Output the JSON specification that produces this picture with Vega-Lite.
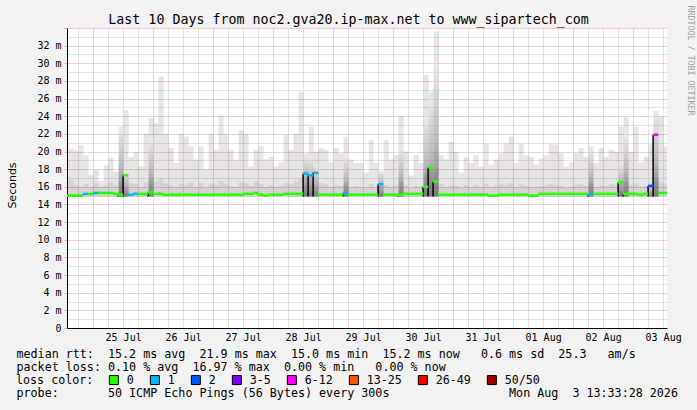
{
  "$schema": "https://vega.github.io/schema/vega-lite/v6.json",
  "width": 600,
  "height": 300,
  "autosize": {"type": "none"},
  "padding": {"left": 67, "top": 28, "right": 30, "bottom": 82},
  "background": "#f2f2f2",
  "config": {"view": {"fill": "#ffffff", "stroke": null}, "font": "DejaVu Sans Mono"},
  "title": {"text": "Last 10 Days from noc2.gva20.ip-max.net to www_sipartech_com", "font": "DejaVu Sans Mono", "fontSize": 13.3, "fontWeight": "normal", "color": "#000000", "anchor": "middle", "frame": "group", "dx": -18.5, "offset": -32, "baseline": "alphabetic"},
  "datasets": {
    "smoke": [
      {"t":"2026-07-24T12:00Z","lo":14.9,"hi":26.0,"md":16.5,"med":15.0,"loss":"0"},
      {"t":"2026-07-24T14:00Z","lo":14.9,"hi":20.3,"md":16.8,"med":15.0,"loss":"0"},
      {"t":"2026-07-24T16:00Z","lo":14.9,"hi":20.1,"md":16.2,"med":15.0,"loss":"0"},
      {"t":"2026-07-24T18:00Z","lo":14.9,"hi":20.7,"md":16.0,"med":15.0,"loss":"0"},
      {"t":"2026-07-24T20:00Z","lo":14.9,"hi":19.6,"md":16.3,"med":15.2,"loss":"1"},
      {"t":"2026-07-24T22:00Z","lo":14.9,"hi":17.3,"md":16.0,"med":15.2,"loss":"0"},
      {"t":"2026-07-25T00:00Z","lo":14.9,"hi":17.9,"md":16.4,"med":15.3,"loss":"1"},
      {"t":"2026-07-25T02:00Z","lo":14.9,"hi":16.7,"md":16.0,"med":15.3,"loss":"0"},
      {"t":"2026-07-25T04:00Z","lo":14.9,"hi":18.5,"md":16.2,"med":15.3,"loss":"0"},
      {"t":"2026-07-25T06:00Z","lo":14.9,"hi":19.3,"md":16.5,"med":15.3,"loss":"0"},
      {"t":"2026-07-25T08:00Z","lo":14.9,"hi":17.7,"md":16.2,"med":15.2,"loss":"0"},
      {"t":"2026-07-25T10:00Z","lo":14.9,"hi":22.8,"md":16.6,"med":15.1,"loss":"0"},
      {"t":"2026-07-25T12:00Z","lo":14.9,"hi":24.7,"md":17.5,"med":17.3,"loss":"0"},
      {"t":"2026-07-25T14:00Z","lo":14.9,"hi":19.4,"md":16.4,"med":15.1,"loss":"1"},
      {"t":"2026-07-25T16:00Z","lo":14.9,"hi":20.0,"md":16.3,"med":15.2,"loss":"1"},
      {"t":"2026-07-25T18:00Z","lo":14.9,"hi":18.3,"md":16.0,"med":15.2,"loss":"0"},
      {"t":"2026-07-25T20:00Z","lo":14.9,"hi":22.0,"md":16.5,"med":15.2,"loss":"0"},
      {"t":"2026-07-25T22:00Z","lo":14.9,"hi":23.8,"md":16.8,"med":15.4,"loss":"0"},
      {"t":"2026-07-26T00:00Z","lo":14.9,"hi":23.2,"md":16.6,"med":15.2,"loss":"0"},
      {"t":"2026-07-26T02:00Z","lo":14.9,"hi":28.5,"md":16.9,"med":15.2,"loss":"0"},
      {"t":"2026-07-26T04:00Z","lo":14.9,"hi":22.0,"md":16.4,"med":15.1,"loss":"0"},
      {"t":"2026-07-26T06:00Z","lo":14.9,"hi":20.4,"md":16.2,"med":15.1,"loss":"0"},
      {"t":"2026-07-26T08:00Z","lo":14.9,"hi":18.7,"md":16.0,"med":15.1,"loss":"0"},
      {"t":"2026-07-26T10:00Z","lo":14.9,"hi":22.0,"md":16.3,"med":15.1,"loss":"0"},
      {"t":"2026-07-26T12:00Z","lo":14.9,"hi":21.7,"md":16.2,"med":15.1,"loss":"0"},
      {"t":"2026-07-26T14:00Z","lo":14.9,"hi":20.6,"md":16.5,"med":15.1,"loss":"0"},
      {"t":"2026-07-26T16:00Z","lo":14.9,"hi":19.1,"md":16.0,"med":15.1,"loss":"0"},
      {"t":"2026-07-26T18:00Z","lo":14.9,"hi":20.6,"md":16.4,"med":15.1,"loss":"0"},
      {"t":"2026-07-26T20:00Z","lo":14.9,"hi":18.0,"md":15.9,"med":15.1,"loss":"0"},
      {"t":"2026-07-26T22:00Z","lo":14.9,"hi":22.0,"md":16.4,"med":15.1,"loss":"0"},
      {"t":"2026-07-27T00:00Z","lo":14.9,"hi":20.2,"md":16.2,"med":15.1,"loss":"0"},
      {"t":"2026-07-27T02:00Z","lo":14.9,"hi":24.1,"md":16.6,"med":15.1,"loss":"0"},
      {"t":"2026-07-27T04:00Z","lo":14.9,"hi":22.0,"md":16.3,"med":15.1,"loss":"0"},
      {"t":"2026-07-27T06:00Z","lo":14.9,"hi":20.2,"md":16.1,"med":15.1,"loss":"0"},
      {"t":"2026-07-27T08:00Z","lo":14.9,"hi":19.1,"md":16.0,"med":15.1,"loss":"0"},
      {"t":"2026-07-27T10:00Z","lo":14.9,"hi":22.4,"md":16.5,"med":15.1,"loss":"0"},
      {"t":"2026-07-27T12:00Z","lo":14.9,"hi":22.0,"md":16.4,"med":15.2,"loss":"0"},
      {"t":"2026-07-27T14:00Z","lo":14.9,"hi":18.3,"md":16.1,"med":15.2,"loss":"0"},
      {"t":"2026-07-27T16:00Z","lo":14.9,"hi":20.2,"md":16.6,"med":15.3,"loss":"0"},
      {"t":"2026-07-27T18:00Z","lo":14.9,"hi":20.6,"md":16.3,"med":15.1,"loss":"0"},
      {"t":"2026-07-27T20:00Z","lo":14.9,"hi":19.1,"md":16.0,"med":15.0,"loss":"0"},
      {"t":"2026-07-27T22:00Z","lo":14.9,"hi":19.4,"md":16.2,"med":15.1,"loss":"0"},
      {"t":"2026-07-28T00:00Z","lo":14.9,"hi":18.3,"md":16.0,"med":15.1,"loss":"0"},
      {"t":"2026-07-28T02:00Z","lo":14.9,"hi":18.8,"md":16.1,"med":15.1,"loss":"0"},
      {"t":"2026-07-28T04:00Z","lo":14.9,"hi":21.9,"md":16.4,"med":15.2,"loss":"0"},
      {"t":"2026-07-28T06:00Z","lo":14.9,"hi":20.2,"md":16.3,"med":15.2,"loss":"0"},
      {"t":"2026-07-28T08:00Z","lo":14.9,"hi":22.0,"md":16.6,"med":15.2,"loss":"0"},
      {"t":"2026-07-28T10:00Z","lo":14.9,"hi":26.8,"md":16.9,"med":15.2,"loss":"0"},
      {"t":"2026-07-28T12:00Z","lo":14.9,"hi":19.8,"md":17.8,"med":17.5,"loss":"1"},
      {"t":"2026-07-28T14:00Z","lo":14.9,"hi":22.8,"md":17.5,"med":17.3,"loss":"1"},
      {"t":"2026-07-28T16:00Z","lo":14.9,"hi":20.0,"md":17.6,"med":17.6,"loss":"1"},
      {"t":"2026-07-28T18:00Z","lo":14.9,"hi":20.4,"md":16.4,"med":15.1,"loss":"0"},
      {"t":"2026-07-28T20:00Z","lo":14.9,"hi":20.2,"md":16.3,"med":15.1,"loss":"0"},
      {"t":"2026-07-28T22:00Z","lo":14.9,"hi":18.8,"md":16.0,"med":15.1,"loss":"0"},
      {"t":"2026-07-29T00:00Z","lo":14.9,"hi":20.4,"md":16.2,"med":15.1,"loss":"0"},
      {"t":"2026-07-29T02:00Z","lo":14.9,"hi":19.8,"md":16.1,"med":15.1,"loss":"0"},
      {"t":"2026-07-29T04:00Z","lo":14.9,"hi":21.7,"md":16.5,"med":15.3,"loss":"1"},
      {"t":"2026-07-29T06:00Z","lo":14.9,"hi":19.1,"md":16.0,"med":15.1,"loss":"0"},
      {"t":"2026-07-29T08:00Z","lo":14.9,"hi":18.7,"md":16.1,"med":15.1,"loss":"0"},
      {"t":"2026-07-29T10:00Z","lo":14.9,"hi":18.7,"md":16.0,"med":15.1,"loss":"0"},
      {"t":"2026-07-29T12:00Z","lo":14.9,"hi":17.6,"md":15.9,"med":15.1,"loss":"0"},
      {"t":"2026-07-29T14:00Z","lo":14.9,"hi":21.3,"md":16.3,"med":15.1,"loss":"0"},
      {"t":"2026-07-29T16:00Z","lo":14.9,"hi":18.7,"md":16.0,"med":15.1,"loss":"0"},
      {"t":"2026-07-29T18:00Z","lo":14.9,"hi":17.5,"md":16.5,"med":16.3,"loss":"1"},
      {"t":"2026-07-29T20:00Z","lo":14.9,"hi":21.3,"md":16.2,"med":15.1,"loss":"0"},
      {"t":"2026-07-29T22:00Z","lo":14.9,"hi":19.1,"md":16.0,"med":15.1,"loss":"0"},
      {"t":"2026-07-30T00:00Z","lo":14.9,"hi":19.6,"md":16.2,"med":15.1,"loss":"0"},
      {"t":"2026-07-30T02:00Z","lo":14.9,"hi":24.0,"md":16.6,"med":15.1,"loss":"0"},
      {"t":"2026-07-30T04:00Z","lo":14.9,"hi":20.0,"md":16.2,"med":15.2,"loss":"0"},
      {"t":"2026-07-30T06:00Z","lo":14.9,"hi":17.3,"md":15.9,"med":15.2,"loss":"0"},
      {"t":"2026-07-30T08:00Z","lo":14.9,"hi":19.6,"md":16.1,"med":15.2,"loss":"0"},
      {"t":"2026-07-30T10:00Z","lo":14.9,"hi":18.7,"md":16.0,"med":15.2,"loss":"0"},
      {"t":"2026-07-30T12:00Z","lo":14.9,"hi":28.7,"md":17.5,"med":16.0,"loss":"0"},
      {"t":"2026-07-30T14:00Z","lo":14.9,"hi":26.8,"md":18.0,"med":18.2,"loss":"0"},
      {"t":"2026-07-30T16:00Z","lo":14.9,"hi":33.6,"md":17.8,"med":16.6,"loss":"0"},
      {"t":"2026-07-30T18:00Z","lo":14.9,"hi":19.6,"md":16.3,"med":15.1,"loss":"0"},
      {"t":"2026-07-30T20:00Z","lo":14.9,"hi":19.1,"md":16.0,"med":15.1,"loss":"0"},
      {"t":"2026-07-30T22:00Z","lo":14.9,"hi":21.1,"md":16.2,"med":15.1,"loss":"0"},
      {"t":"2026-07-31T00:00Z","lo":14.9,"hi":20.0,"md":16.1,"med":15.1,"loss":"0"},
      {"t":"2026-07-31T02:00Z","lo":14.9,"hi":17.6,"md":15.9,"med":15.1,"loss":"0"},
      {"t":"2026-07-31T04:00Z","lo":14.9,"hi":19.4,"md":16.2,"med":15.1,"loss":"0"},
      {"t":"2026-07-31T06:00Z","lo":14.9,"hi":18.7,"md":16.0,"med":15.1,"loss":"0"},
      {"t":"2026-07-31T08:00Z","lo":14.9,"hi":19.6,"md":16.2,"med":15.1,"loss":"0"},
      {"t":"2026-07-31T10:00Z","lo":14.9,"hi":18.3,"md":16.0,"med":15.1,"loss":"0"},
      {"t":"2026-07-31T12:00Z","lo":14.9,"hi":20.9,"md":16.3,"med":15.1,"loss":"0"},
      {"t":"2026-07-31T14:00Z","lo":14.9,"hi":18.5,"md":16.0,"med":15.0,"loss":"0"},
      {"t":"2026-07-31T16:00Z","lo":14.9,"hi":19.1,"md":16.2,"med":15.0,"loss":"0"},
      {"t":"2026-07-31T18:00Z","lo":14.9,"hi":19.8,"md":16.3,"med":15.1,"loss":"0"},
      {"t":"2026-07-31T20:00Z","lo":14.9,"hi":20.9,"md":16.2,"med":15.1,"loss":"0"},
      {"t":"2026-07-31T22:00Z","lo":14.9,"hi":21.7,"md":16.4,"med":15.1,"loss":"0"},
      {"t":"2026-08-01T00:00Z","lo":14.9,"hi":18.7,"md":16.0,"med":15.1,"loss":"0"},
      {"t":"2026-08-01T02:00Z","lo":14.9,"hi":20.9,"md":16.3,"med":15.1,"loss":"0"},
      {"t":"2026-08-01T04:00Z","lo":14.9,"hi":19.6,"md":16.1,"med":15.1,"loss":"0"},
      {"t":"2026-08-01T06:00Z","lo":14.9,"hi":19.4,"md":16.0,"med":15.0,"loss":"0"},
      {"t":"2026-08-01T08:00Z","lo":14.9,"hi":18.5,"md":16.0,"med":15.0,"loss":"0"},
      {"t":"2026-08-01T10:00Z","lo":14.9,"hi":19.2,"md":16.1,"med":15.2,"loss":"0"},
      {"t":"2026-08-01T12:00Z","lo":14.9,"hi":19.6,"md":16.2,"med":15.2,"loss":"0"},
      {"t":"2026-08-01T14:00Z","lo":14.9,"hi":20.9,"md":16.3,"med":15.2,"loss":"0"},
      {"t":"2026-08-01T16:00Z","lo":14.9,"hi":20.8,"md":16.2,"med":15.2,"loss":"0"},
      {"t":"2026-08-01T18:00Z","lo":14.9,"hi":19.8,"md":16.1,"med":15.2,"loss":"0"},
      {"t":"2026-08-01T20:00Z","lo":14.9,"hi":18.3,"md":15.9,"med":15.2,"loss":"0"},
      {"t":"2026-08-01T22:00Z","lo":14.9,"hi":18.8,"md":16.0,"med":15.2,"loss":"0"},
      {"t":"2026-08-02T00:00Z","lo":14.9,"hi":19.8,"md":16.2,"med":15.2,"loss":"0"},
      {"t":"2026-08-02T02:00Z","lo":14.9,"hi":20.4,"md":16.3,"med":15.2,"loss":"0"},
      {"t":"2026-08-02T04:00Z","lo":14.9,"hi":19.4,"md":16.1,"med":15.2,"loss":"0"},
      {"t":"2026-08-02T06:00Z","lo":14.9,"hi":20.6,"md":16.4,"med":15.1,"loss":"1"},
      {"t":"2026-08-02T08:00Z","lo":14.9,"hi":18.7,"md":16.0,"med":15.2,"loss":"0"},
      {"t":"2026-08-02T10:00Z","lo":14.9,"hi":20.4,"md":16.2,"med":15.2,"loss":"0"},
      {"t":"2026-08-02T12:00Z","lo":14.9,"hi":19.4,"md":16.1,"med":15.2,"loss":"0"},
      {"t":"2026-08-02T14:00Z","lo":14.9,"hi":20.2,"md":16.3,"med":15.2,"loss":"0"},
      {"t":"2026-08-02T16:00Z","lo":14.9,"hi":20.0,"md":16.2,"med":15.2,"loss":"0"},
      {"t":"2026-08-02T18:00Z","lo":14.9,"hi":22.8,"md":16.8,"med":16.5,"loss":"0"},
      {"t":"2026-08-02T20:00Z","lo":14.9,"hi":23.9,"md":16.6,"med":15.2,"loss":"0"},
      {"t":"2026-08-02T22:00Z","lo":14.9,"hi":20.0,"md":16.2,"med":15.2,"loss":"0"},
      {"t":"2026-08-03T00:00Z","lo":14.9,"hi":22.8,"md":16.4,"med":15.2,"loss":"0"},
      {"t":"2026-08-03T02:00Z","lo":14.9,"hi":18.8,"md":16.0,"med":15.1,"loss":"0"},
      {"t":"2026-08-03T04:00Z","lo":14.9,"hi":19.4,"md":16.1,"med":15.2,"loss":"0"},
      {"t":"2026-08-03T06:00Z","lo":14.9,"hi":20.8,"md":16.5,"med":16.1,"loss":"2"},
      {"t":"2026-08-03T08:00Z","lo":14.9,"hi":24.6,"md":17.0,"med":21.9,"loss":"6-12"},
      {"t":"2026-08-03T10:00Z","lo":14.9,"hi":24.0,"md":16.5,"med":15.3,"loss":"0"},
      {"t":"2026-08-03T12:00Z","lo":14.9,"hi":20.6,"md":16.3,"med":15.3,"loss":"0"}
    ],
    "spikes": [
      {"t":"2026-07-25T10:00Z","lo":14.9,"top":22.7,"med":15.1},
      {"t":"2026-07-25T12:00Z","lo":14.9,"top":17.8,"med":17.3},
      {"t":"2026-07-25T22:00Z","lo":14.9,"top":21.5,"med":15.4},
      {"t":"2026-07-28T12:00Z","lo":14.9,"top":19.8,"med":17.5},
      {"t":"2026-07-28T14:00Z","lo":14.9,"top":19.5,"med":17.3},
      {"t":"2026-07-28T16:00Z","lo":14.9,"top":18.5,"med":17.6},
      {"t":"2026-07-29T04:00Z","lo":14.9,"top":19.6,"med":15.3},
      {"t":"2026-07-29T18:00Z","lo":14.9,"top":18.0,"med":16.3},
      {"t":"2026-07-30T02:00Z","lo":14.9,"top":20.5,"med":15.1},
      {"t":"2026-07-30T12:00Z","lo":14.9,"top":24.0,"med":16.0},
      {"t":"2026-07-30T14:00Z","lo":14.9,"top":26.0,"med":18.2},
      {"t":"2026-07-30T16:00Z","lo":14.9,"top":30.0,"med":16.6},
      {"t":"2026-08-02T06:00Z","lo":14.9,"top":20.5,"med":15.1},
      {"t":"2026-08-02T18:00Z","lo":14.9,"top":18.7,"med":16.5},
      {"t":"2026-08-02T20:00Z","lo":14.9,"top":22.0,"med":15.2},
      {"t":"2026-08-03T06:00Z","lo":14.9,"top":16.5,"med":16.1},
      {"t":"2026-08-03T08:00Z","lo":14.9,"top":24.6,"med":21.9}
    ]
  },
  "encoding": {
    "x": {
      "field": "t",
      "type": "temporal",
      "timeUnit": {"unit": "utcyearmonthdatehours", "step": 2},
      "scale": {"type": "utc", "domain": [1784900008000, 1785764008000]},
      "axis": {
        "values": [1784916000000,1784937600000,1784959200000,1784980800000,1785002400000,1785024000000,1785045600000,1785067200000,1785088800000,1785110400000,1785132000000,1785153600000,1785175200000,1785196800000,1785218400000,1785240000000,1785261600000,1785283200000,1785304800000,1785326400000,1785348000000,1785369600000,1785391200000,1785412800000,1785434400000,1785456000000,1785477600000,1785499200000,1785520800000,1785542400000,1785564000000,1785585600000,1785607200000,1785628800000,1785650400000,1785672000000,1785693600000,1785715200000,1785736800000,1785758400000],
        "labelExpr": "utchours(datum.value) == 12 ? utcFormat(datum.value, '%d %b') : ''",
        "labelOverlap": false,
        "labelBound": false,
        "labelFlush": false,
        "labelFont": "DejaVu Sans Mono",
        "labelFontSize": 10,
        "labelColor": "#000000",
        "labelPadding": 4,
        "ticks": false,
        "grid": true,
        "gridColor": {"condition": {"test": "utchours(datum.value) == 0", "value": "#f2a0a0"}, "value": "#c8c8c8"},
        "gridDash": [1, 1],
        "domainColor": "#000000",
        "title": [
          "median\u00a0rtt:\u00a0\u00a015.2\u00a0ms\u00a0avg\u00a0\u00a021.9\u00a0ms\u00a0max\u00a0\u00a015.0\u00a0ms\u00a0min\u00a0\u00a015.2\u00a0ms\u00a0now\u00a0\u00a0\u00a00.6\u00a0ms\u00a0sd\u00a0\u00a025.3\u00a0\u00a0\u00a0am/s",
          "packet\u00a0loss:\u00a00.10\u00a0%\u00a0avg\u00a0\u00a016.97\u00a0%\u00a0max\u00a0\u00a00.00\u00a0%\u00a0min\u00a0\u00a0\u00a00.00\u00a0%\u00a0now",
          "\u200b",
          "probe:\u00a0\u00a0\u00a0\u00a0\u00a0\u00a0\u00a050\u00a0ICMP\u00a0Echo\u00a0Pings\u00a0(56\u00a0Bytes)\u00a0every\u00a0300s\u00a0\u00a0\u00a0\u00a0\u00a0\u00a0\u00a0\u00a0\u00a0\u00a0\u00a0\u00a0\u00a0\u00a0\u00a0\u00a0\u00a0Mon\u00a0Aug\u00a0\u00a03\u00a013:33:28\u00a02026"
        ],
        "titleAnchor": "start",
        "titleAlign": "left",
        "titleBaseline": "alphabetic",
        "titleX": -51,
        "titleY": 29,
        "titleFont": "DejaVu Sans Mono",
        "titleFontSize": 11.7,
        "titleFontWeight": "normal",
        "titleColor": "#000000",
        "titleLineHeight": 13.3,
        "titleLimit": 1000
      }
    }
  },
  "layer": [
    {
      "data": {"name": "smoke"},
      "mark": {"type": "bar", "color": "#000000", "opacity": 0.1, "clip": true, "binSpacing": 0},
      "encoding": {
        "y": {
          "field": "lo",
          "type": "quantitative",
          "scale": {"domain": [0, 34], "nice": false, "zero": true},
          "axis": {
            "values": [0,1,2,3,4,5,6,7,8,9,10,11,12,13,14,15,16,17,18,19,20,21,22,23,24,25,26,27,28,29,30,31,32,33,34],
            "labelExpr": "datum.value % 2 == 0 && datum.value <= 32 ? (datum.value == 0 ? '0' : datum.value + ' m') : ''",
            "labelFont": "DejaVu Sans Mono",
            "labelFontSize": 10,
            "labelColor": "#000000",
            "labelPadding": 3,
            "labelOverlap": false,
            "labelBound": false,
            "labelFlush": false,
            "tickSize": 3,
            "tickColor": {"condition": {"test": "datum.value % 2 == 0", "value": "#f2a0a0"}, "value": "#ffffff00"},
            "grid": true,
            "gridColor": {"condition": {"test": "datum.value % 2 == 0", "value": "#f2a0a0"}, "value": "#c8c8c8"},
            "gridDash": [1, 1],
            "domainColor": "#000000",
            "title": "Seconds",
            "titleFont": "DejaVu Sans",
            "titleFontSize": 11,
            "titleFontWeight": "normal",
            "titleColor": "#000000",
            "titleX": -55,
            "titleY": 157,
            "titleAlign": "center",
            "titleBaseline": "middle"
          }
        },
        "y2": {"field": "hi"}
      }
    },
    {
      "data": {"name": "smoke"},
      "mark": {"type": "bar", "color": "#000000", "opacity": 0.08, "clip": true, "binSpacing": 0},
      "encoding": {
        "y": {"field": "lo", "type": "quantitative", "axis": null},
        "y2": {"field": "md"}
      }
    },
    {
      "data": {"name": "spikes"},
      "mark": {"type": "bar", "clip": true, "binSpacing": 0, "opacity": 0.6,
        "color": {"gradient": "linear", "x1": 0, "y1": 0, "x2": 0, "y2": 1, "stops": [{"offset": 0, "color": "#eeeeee"}, {"offset": 0.6, "color": "#9a9a9a"}, {"offset": 1, "color": "#404040"}]}},
      "encoding": {
        "y": {"field": "lo", "type": "quantitative", "axis": null},
        "y2": {"field": "top"}
      }
    },
    {
      "data": {"name": "spikes"},
      "mark": {"type": "rule", "color": "#000000", "strokeWidth": 1.5, "clip": true, "timeUnitBandPosition": 0.2},
      "encoding": {
        "y": {"field": "lo", "type": "quantitative", "axis": null},
        "y2": {"field": "med"}
      }
    },
    {
      "data": {"name": "smoke"},
      "mark": {"type": "tick", "orient": "horizontal", "size": 5.3, "thickness": 2.6, "opacity": 1, "clip": true, "timeUnitBandPosition": 0.5},
      "encoding": {
        "y": {
          "field": "med",
          "type": "quantitative",
          "scale": {"domain": [0, 34], "nice": false, "zero": true},
          "axis": {
            "orient": "right",
            "labels": false,
            "ticks": false,
            "domain": false,
            "grid": false,
            "title": "RRDTOOL / TOBI OETIKER",
            "titleAngle": 90,
            "titleFont": "DejaVu Sans Mono",
            "titleFontSize": 8.3,
            "titleFontWeight": "normal",
            "titleColor": "#a0a0a0",
            "titleX": 22,
            "titleY": 32,
            "titleAlign": "center",
            "titleBaseline": "middle"
          }
        },
        "color": {
          "field": "loss",
          "type": "nominal",
          "scale": {
            "domain": ["0", "1", "2", "3-5", "6-12", "13-25", "26-49", "50/50"],
            "range": ["#26ff00", "#00b8ff", "#0059ff", "#7e00ff", "#ff00ff", "#ff5500", "#ff0000", "#a10000"]
          },
          "legend": {
            "orient": "none",
            "legendX": -51,
            "legendY": 346,
            "direction": "horizontal",
            "title": "loss color:",
            "titleOrient": "left",
            "titleFont": "DejaVu Sans Mono",
            "titleFontSize": 11.7,
            "titleFontWeight": "normal",
            "titleColor": "#000000",
            "titlePadding": 14,
            "labelFont": "DejaVu Sans Mono",
            "labelFontSize": 11.7,
            "labelColor": "#000000",
            "labelOffset": 7,
            "columnPadding": 14,
            "symbolType": "square",
            "symbolSize": 81,
            "symbolOpacity": 1,
            "symbolStrokeColor": "#000000",
            "symbolStrokeWidth": 1
          }
        }
      }
    }
  ],
  "resolve": {"axis": {"y": "independent"}}
}
